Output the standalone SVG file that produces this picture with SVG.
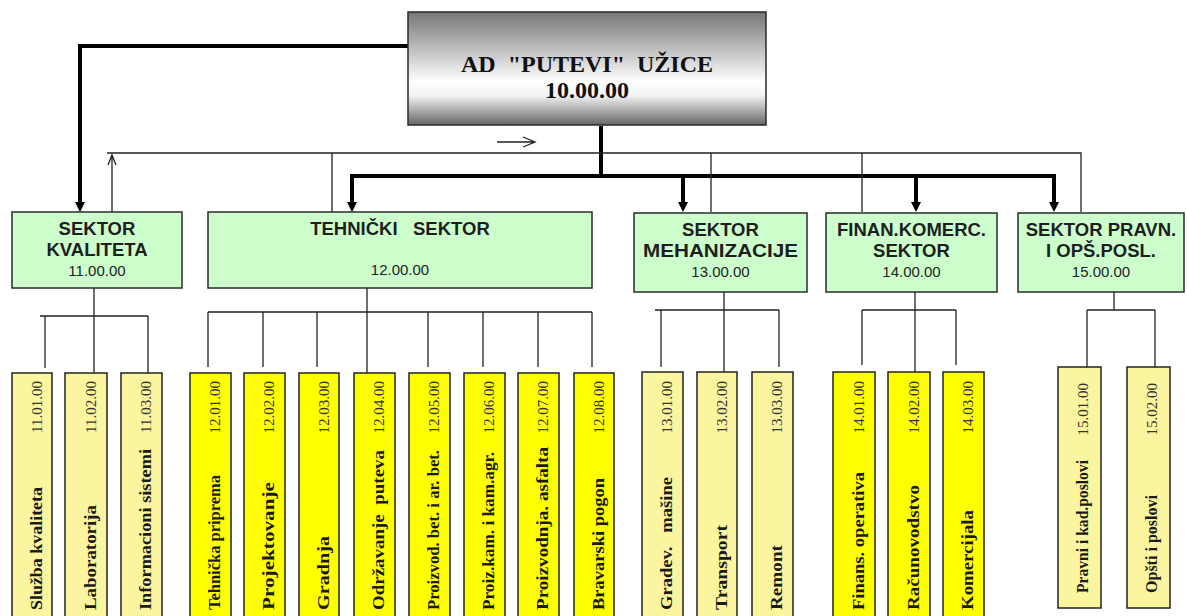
<svg xmlns="http://www.w3.org/2000/svg" width="1187" height="616" viewBox="0 0 1187 616">
<style>
.bg{fill:#ffffff}
.sec rect{fill:#ccffcc;stroke:#2a2a2a;stroke-width:1.5}
.st{font-family:"Liberation Sans",Arial,sans-serif;font-weight:bold;font-size:18.5px;fill:#1e1e1e;text-anchor:middle}
.sc{font-family:"Liberation Sans",Arial,sans-serif;font-size:15px;fill:#222;text-anchor:middle}
.pale rect{fill:#faf59e;stroke:#222;stroke-width:1.5}
.bright rect{fill:#ffff00;stroke:#222;stroke-width:1.5}
.nm{font-family:"Liberation Serif","Times New Roman",serif;font-weight:bold;font-size:17px;fill:#1a1a1a}
.cd{font-family:"Liberation Serif","Times New Roman",serif;font-size:15px;fill:#333;text-anchor:end}
.thick{fill:none;stroke:#000;stroke-width:4}
.thin{fill:none;stroke:#222;stroke-width:1.3}
.top{font-family:"Liberation Serif","Times New Roman",serif;font-weight:bold;font-size:24px;fill:#111;text-anchor:middle}
</style>
<defs>
<linearGradient id="g" x1="0" y1="0" x2="0" y2="1">
<stop offset="0" stop-color="#767676"/>
<stop offset="0.62" stop-color="#ffffff"/>
<stop offset="0.74" stop-color="#f2f2f2"/>
<stop offset="1" stop-color="#666666"/>
</linearGradient>
<marker id="ah" viewBox="0 0 10 10" refX="0" refY="5" markerWidth="10" markerHeight="10" markerUnits="userSpaceOnUse" orient="auto-start-reverse">
<path d="M0,0 L10,5 L0,10 z" fill="#000"/>
</marker>
</defs>
<rect class="bg" x="0" y="0" width="1187" height="616"/>

<g id="connectors">
<path class="thick" d="M408,46 H80 V202" marker-end="url(#ah)"/>
<path class="thick" d="M601,126 V176"/>
<path class="thick" d="M352,202 V176 H1054 V202" marker-start="url(#ah)" marker-end="url(#ah)"/>
<path class="thick" d="M683,176 V202" marker-end="url(#ah)"/>
<path class="thick" d="M916,176 V202" marker-end="url(#ah)"/>
<path class="thin" d="M107,153 H1081 V212"/>
<path class="thin" d="M332,153 V212 M711,153 V212 M862,153 V212"/>
<path class="thin" d="M112,212 V154 M108,165 L112,155 L116,165"/>
<path class="thin" d="M497,142 H535 M523,137 L535,142 L523,147"/>
<path class="thin" d="M94,288 V316 M40,316 H148 M45,316 V368 M94,316 V373 M148,316 V373"/>
<path class="thin" d="M367,288 V373 M208,312 H592 M208,312 V367 M263,312 V367 M317,312 V367 M428,312 V367 M483,312 V367 M538,312 V367 M592,312 V367"/>
<path class="thin" d="M724,292 V372 M655,310 H779 M661,310 V367 M779,310 V367"/>
<path class="thin" d="M915,292 V372 M862,310 H956 M862,310 V365 M956,310 V365"/>
<path class="thin" d="M1114,292 V310 M1087,310 H1155 M1087,310 V367 M1155,310 V367"/>
</g>

<g id="n10">
<rect x="408" y="12" width="358" height="113" fill="url(#g)" stroke="#2a2a2a" stroke-width="1.5"/>
<text class="top" x="587" y="72" xml:space="preserve">AD  "PUTEVI"  UŽICE</text>
<text class="top" x="587" y="98">10.00.00</text>
</g>

<g id="n11" class="sec">
<rect x="12" y="212" width="170" height="76"/>
<text class="st" x="97" y="235">SEKTOR</text>
<text class="st" x="97" y="256">KVALITETA</text>
<text class="sc" x="97" y="276">11.00.00</text>
</g>
<g id="n12" class="sec">
<rect x="208" y="212" width="384" height="76"/>
<text class="st" x="400" y="235" xml:space="preserve">TEHNIČKI   SEKTOR</text>
<text class="sc" x="400" y="275">12.00.00</text>
</g>
<g id="n13" class="sec">
<rect x="634" y="213" width="173" height="79"/>
<text class="st" x="720.5" y="236">SEKTOR</text>
<text class="st" x="720.5" y="257" textLength="155" lengthAdjust="spacingAndGlyphs">MEHANIZACIJE</text>
<text class="sc" x="720.5" y="277">13.00.00</text>
</g>
<g id="n14" class="sec">
<rect x="826" y="213" width="171" height="79"/>
<text class="st" x="911.5" y="236">FINAN.KOMERC.</text>
<text class="st" x="911.5" y="257">SEKTOR</text>
<text class="sc" x="911.5" y="277">14.00.00</text>
</g>
<g id="n15" class="sec">
<rect x="1018" y="213" width="166" height="79"/>
<text class="st" x="1101" y="236">SEKTOR PRAVN.</text>
<text class="st" x="1101" y="257">I OPŠ.POSL.</text>
<text class="sc" x="1101" y="277">15.00.00</text>
</g>

<g id="n1101" class="pale"><rect x="12" y="373" width="40" height="250"/>
<text class="nm" transform="translate(42,610) rotate(-90)" textLength="123" lengthAdjust="spacingAndGlyphs">Služba kvaliteta</text>
<text class="cd" transform="translate(42,381) rotate(-90)">11.01.00</text></g>
<g id="n1102" class="pale"><rect x="65" y="373" width="42" height="250"/>
<text class="nm" transform="translate(96,610) rotate(-90)" textLength="105" lengthAdjust="spacingAndGlyphs">Laboratorija</text>
<text class="cd" transform="translate(96,381) rotate(-90)">11.02.00</text></g>
<g id="n1103" class="pale"><rect x="121" y="373" width="41" height="250"/>
<text class="nm" transform="translate(151,610) rotate(-90)" textLength="161" lengthAdjust="spacingAndGlyphs">Informacioni sistemi</text>
<text class="cd" transform="translate(151,381) rotate(-90)">11.03.00</text></g>

<g id="n1201" class="bright"><rect x="190" y="373" width="41" height="250"/>
<text class="nm" transform="translate(220,610) rotate(-90)" textLength="135" lengthAdjust="spacingAndGlyphs">Tehnička priprema</text>
<text class="cd" transform="translate(220,381) rotate(-90)">12.01.00</text></g>
<g id="n1202" class="bright"><rect x="244" y="373" width="41" height="250"/>
<text class="nm" transform="translate(274,610) rotate(-90)" textLength="128" lengthAdjust="spacingAndGlyphs">Projektovanje</text>
<text class="cd" transform="translate(274,381) rotate(-90)">12.02.00</text></g>
<g id="n1203" class="bright"><rect x="299" y="373" width="40" height="250"/>
<text class="nm" transform="translate(329,610) rotate(-90)" textLength="74" lengthAdjust="spacingAndGlyphs">Gradnja</text>
<text class="cd" transform="translate(329,381) rotate(-90)">12.03.00</text></g>
<g id="n1204" class="bright"><rect x="354" y="373" width="41" height="250"/>
<text class="nm" transform="translate(384,610) rotate(-90)" textLength="160" lengthAdjust="spacingAndGlyphs" xml:space="preserve">Održavanje  puteva</text>
<text class="cd" transform="translate(384,381) rotate(-90)">12.04.00</text></g>
<g id="n1205" class="bright"><rect x="409" y="373" width="41" height="250"/>
<text class="nm" transform="translate(439,610) rotate(-90)" textLength="160" lengthAdjust="spacingAndGlyphs">Proizvod. bet. i ar. bet.</text>
<text class="cd" transform="translate(439,381) rotate(-90)">12.05.00</text></g>
<g id="n1206" class="bright"><rect x="464" y="373" width="41" height="250"/>
<text class="nm" transform="translate(494,610) rotate(-90)" textLength="158" lengthAdjust="spacingAndGlyphs">Proiz.kam. i kam.agr.</text>
<text class="cd" transform="translate(494,381) rotate(-90)">12.06.00</text></g>
<g id="n1207" class="bright"><rect x="518" y="373" width="41" height="250"/>
<text class="nm" transform="translate(548,610) rotate(-90)" textLength="163" lengthAdjust="spacingAndGlyphs">Proizvodnja. asfalta</text>
<text class="cd" transform="translate(548,381) rotate(-90)">12.07.00</text></g>
<g id="n1208" class="bright"><rect x="574" y="373" width="40" height="250"/>
<text class="nm" transform="translate(604,610) rotate(-90)" textLength="132" lengthAdjust="spacingAndGlyphs">Bravarski pogon</text>
<text class="cd" transform="translate(604,381) rotate(-90)">12.08.00</text></g>

<g id="n1301" class="pale"><rect x="642" y="372" width="41" height="250"/>
<text class="nm" transform="translate(672,610) rotate(-90)" textLength="133" lengthAdjust="spacingAndGlyphs" xml:space="preserve">Gradev.   mašine</text>
<text class="cd" transform="translate(672,381) rotate(-90)">13.01.00</text></g>
<g id="n1302" class="pale"><rect x="697" y="372" width="40" height="250"/>
<text class="nm" transform="translate(727,610) rotate(-90)" textLength="85" lengthAdjust="spacingAndGlyphs">Transport</text>
<text class="cd" transform="translate(727,381) rotate(-90)">13.02.00</text></g>
<g id="n1303" class="pale"><rect x="752" y="372" width="41" height="250"/>
<text class="nm" transform="translate(782,610) rotate(-90)" textLength="65" lengthAdjust="spacingAndGlyphs">Remont</text>
<text class="cd" transform="translate(782,381) rotate(-90)">13.03.00</text></g>

<g id="n1401" class="bright"><rect x="833" y="372" width="42" height="250"/>
<text class="nm" transform="translate(864,610) rotate(-90)" textLength="138" lengthAdjust="spacingAndGlyphs">Finans. operativa</text>
<text class="cd" transform="translate(864,381) rotate(-90)">14.01.00</text></g>
<g id="n1402" class="bright"><rect x="888" y="372" width="42" height="250"/>
<text class="nm" transform="translate(919,610) rotate(-90)" textLength="125" lengthAdjust="spacingAndGlyphs">Računovodstvo</text>
<text class="cd" transform="translate(919,381) rotate(-90)">14.02.00</text></g>
<g id="n1403" class="bright"><rect x="943" y="372" width="41" height="250"/>
<text class="nm" transform="translate(973,610) rotate(-90)" textLength="100" lengthAdjust="spacingAndGlyphs">Komercijala</text>
<text class="cd" transform="translate(973,381) rotate(-90)">14.03.00</text></g>

<g id="n1501" class="pale"><rect x="1058" y="367" width="43" height="241"/>
<text class="nm" transform="translate(1088,593) rotate(-90)" textLength="133" lengthAdjust="spacingAndGlyphs">Pravni i kad.poslovi</text>
<text class="cd" transform="translate(1088,383) rotate(-90)">15.01.00</text></g>
<g id="n1502" class="pale"><rect x="1127" y="367" width="43" height="241"/>
<text class="nm" transform="translate(1157,593) rotate(-90)" textLength="98" lengthAdjust="spacingAndGlyphs">Opšti i poslovi</text>
<text class="cd" transform="translate(1157,383) rotate(-90)">15.02.00</text></g>
</svg>
